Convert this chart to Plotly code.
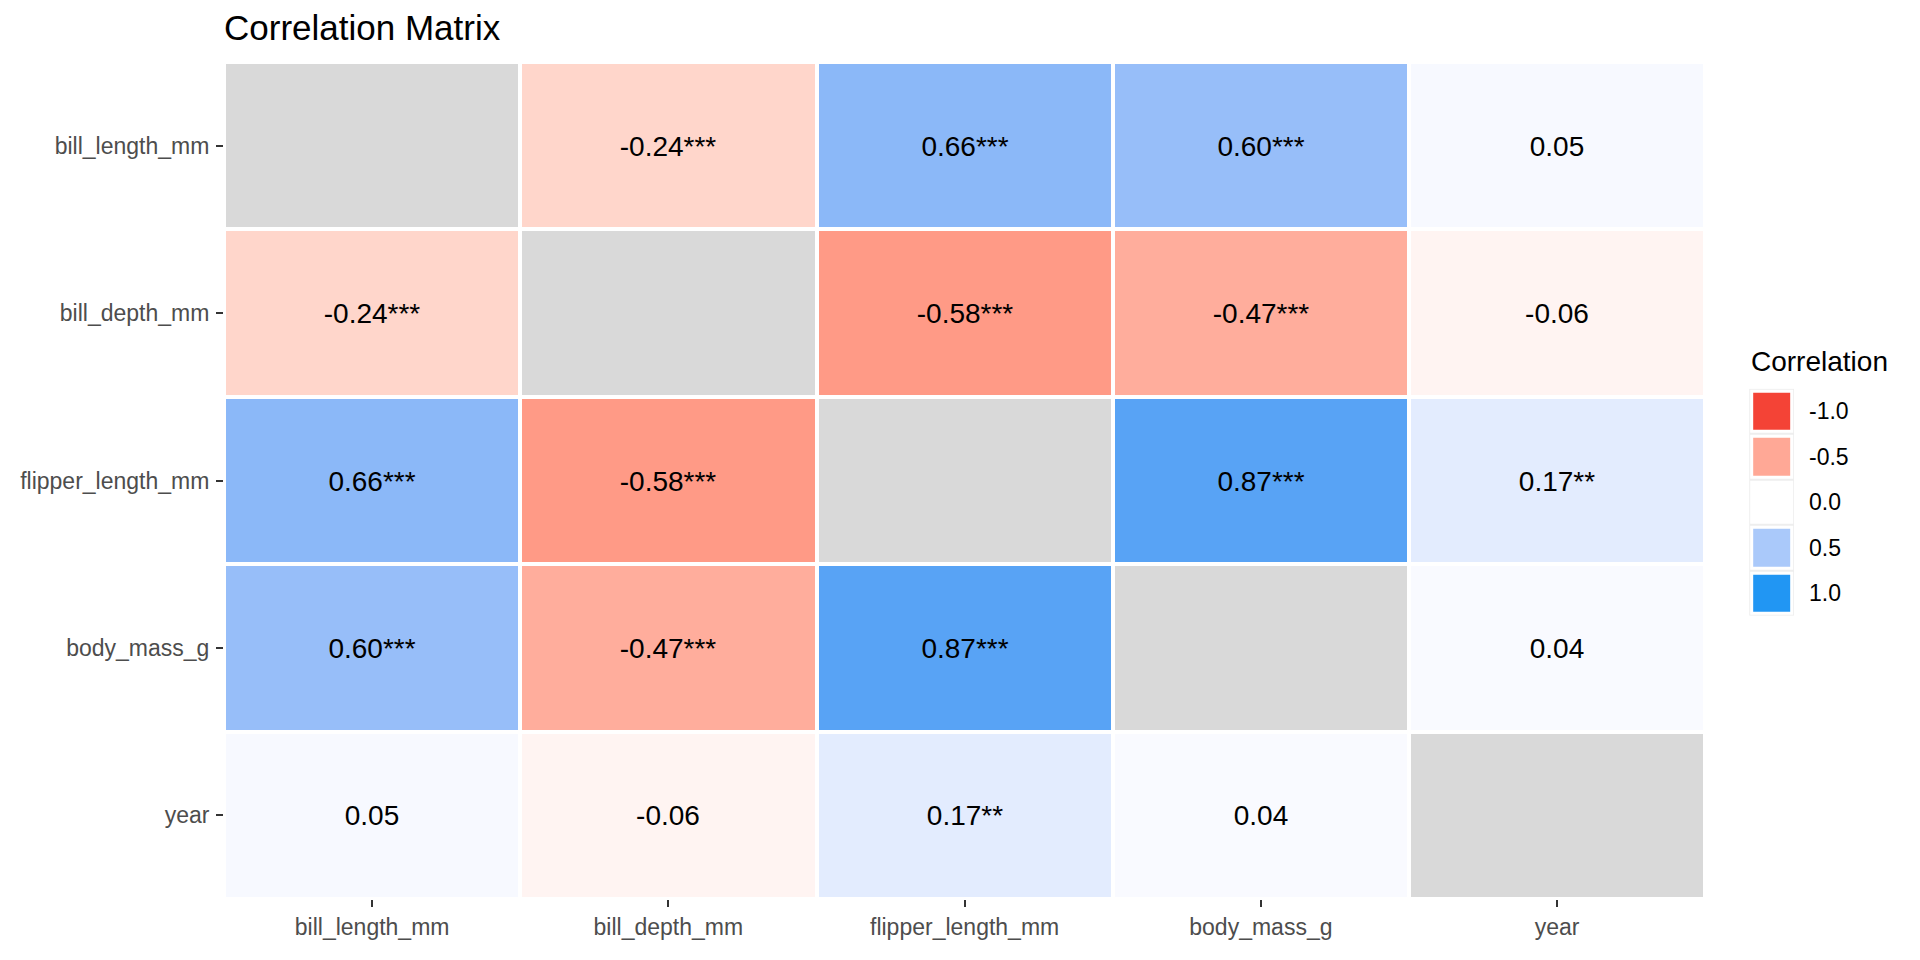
import numpy as np
import plotly.graph_objects as go

variables = ["bill_length_mm", "bill_depth_mm", "flipper_length_mm", "body_mass_g", "year"]

corr_values = [
    [None, -0.24, 0.66, 0.60, 0.05],
    [-0.24, None, -0.58, -0.47, -0.06],
    [0.66, -0.58, None, 0.87, 0.17],
    [0.60, -0.47, 0.87, None, 0.04],
    [0.05, -0.06, 0.17, 0.04, None],
]

stars = [
    ["", "***", "***", "***", ""],
    ["***", "", "***", "***", ""],
    ["***", "***", "", "***", "**"],
    ["***", "***", "***", "", ""],
    ["", "", "**", "", ""],
]

legend_values = [-1.0, -0.5, 0.0, 0.5, 1.0]
legend_labels = ["-1.0", "-0.5", "0.0", "0.5", "1.0"]

LOW = "#F44336"
MID = "#FFFFFF"
HIGH = "#2196F3"
NA_COLOR = "#D9D9D9"


# ---- Lab interpolation (like scales::div_gradient_pal) ----
M = np.array([[0.4124564, 0.3575761, 0.1804375],
              [0.2126729, 0.7151522, 0.0721750],
              [0.0193339, 0.1191920, 0.9503041]])
Minv = np.linalg.inv(M)
WN = np.array([0.95047, 1.0, 1.08883])


def hex2rgb(h):
    h = h.lstrip("#")
    return np.array([int(h[i:i + 2], 16) for i in (0, 2, 4)]) / 255.0


def rgb2lab(rgb):
    lin = np.where(rgb <= 0.04045, rgb / 12.92, ((rgb + 0.055) / 1.055) ** 2.4)
    xyz = M @ lin / WN
    d = 6 / 29
    f = np.where(xyz > d ** 3, np.cbrt(xyz), xyz / (3 * d * d) + 4 / 29)
    return np.array([116 * f[1] - 16, 500 * (f[0] - f[1]), 200 * (f[1] - f[2])])


def lab2hex(lab):
    L, a, b = lab
    fy = (L + 16) / 116
    fx = fy + a / 500
    fz = fy - b / 200
    d = 6 / 29
    f = np.array([fx, fy, fz])
    xyz = np.where(f > d, f ** 3, 3 * d * d * (f - 4 / 29)) * WN
    lin = Minv @ xyz
    lin = np.clip(lin, 0, 1)
    rgb = np.where(lin <= 0.0031308, 12.92 * lin, 1.055 * lin ** (1 / 2.4) - 0.055)
    rgb = np.clip(np.round(rgb * 255), 0, 255).astype(int)
    return "#%02X%02X%02X" % tuple(rgb)


lab_low, lab_mid, lab_high = rgb2lab(hex2rgb(LOW)), rgb2lab(hex2rgb(MID)), rgb2lab(hex2rgb(HIGH))
colorscale = []
for t in np.linspace(0, 1, 41):
    if t <= 0.5:
        s = t / 0.5
        lab = lab_low + (lab_mid - lab_low) * s
    else:
        s = (t - 0.5) / 0.5
        lab = lab_mid + (lab_high - lab_mid) * s
    colorscale.append([float(t), lab2hex(lab)])

# ---- derived arrays ----
labels = [[("" if v is None else f"{v:.2f}{stars[i][j]}") for j, v in enumerate(row)]
          for i, row in enumerate(corr_values)]
diag_mask = [[(1 if v is None else None) for v in row] for row in corr_values]

FONT = "Liberation Sans, Arial, Helvetica, sans-serif"

fig = go.Figure()

fig.add_trace(go.Heatmap(
    z=diag_mask, x=variables, y=variables,
    colorscale=[[0, NA_COLOR], [1, NA_COLOR]], showscale=False,
    xgap=4, ygap=4, hoverinfo="skip",
))

fig.add_trace(go.Heatmap(
    z=corr_values, x=variables, y=variables,
    colorscale=colorscale, zmin=-1, zmax=1, showscale=False,
    text=labels, texttemplate="%{text}",
    textfont=dict(size=28, color="black", family=FONT),
    xgap=4, ygap=4, hoverongaps=False,
))

# ---- legend built as small heatmaps ----
leg_idx = list(range(len(legend_values)))
leg_z = [[v] for v in legend_values]
fig.add_trace(go.Heatmap(
    z=[[0] for _ in legend_values], x=[0], y=leg_idx,
    colorscale=[[0, "#EEEEEE"], [1, "#EEEEEE"]], showscale=False,
    xaxis="x2", yaxis="y2", hoverinfo="skip",
))
fig.add_trace(go.Heatmap(
    z=[[0] for _ in legend_values], x=[0], y=leg_idx,
    colorscale=[[0, "#FFFFFF"], [1, "#FFFFFF"]], showscale=False,
    xgap=2, ygap=2, xaxis="x2", yaxis="y2", hoverinfo="skip",
))
fig.add_trace(go.Heatmap(
    z=leg_z, x=[0], y=leg_idx,
    colorscale=colorscale, zmin=-1, zmax=1, showscale=False,
    xgap=8, ygap=8, xaxis="x2", yaxis="y2", hoverinfo="skip",
))

# page body has an 8px default margin; work in screen coordinates
OFF = 8
W, H = 1920 - 2 * OFF, 960 - 2 * OFF
ML = 220 - OFF
MT = 62 - OFF
MB = H - (910 - OFF)
MR = W - (1800 - OFF)
PW = W - ML - MR
PH = H - MT - MB


def px_x(x):
    return (x - OFF - ML) / PW


def px_y(y):
    return (H - MB - (y - OFF)) / PH


fig.update_layout(
    width=W, height=H,
    margin=dict(l=ML, r=MR, t=MT, b=MB),
    paper_bgcolor="white", plot_bgcolor="white",
    font=dict(family=FONT, color="black"),
    title=dict(text="Correlation Matrix", x=0, xref="paper", xanchor="left",
               y=1 - (28 - OFF) / H, yref="container", yanchor="middle",
               font=dict(size=35, color="black", family=FONT)),
    xaxis=dict(domain=[0, px_x(1705)], type="category", categoryorder="array",
               categoryarray=variables, showgrid=False, zeroline=False, showline=False,
               ticks="outside", ticklen=7, tickwidth=2, tickcolor="#333333",
               tickfont=dict(size=23, color="#4D4D4D", family=FONT), ticklabelstandoff=0),
    yaxis=dict(domain=[0, 1], type="category", categoryorder="array",
               categoryarray=variables, autorange="reversed", showgrid=False,
               zeroline=False, showline=False,
               ticks="outside", ticklen=7, tickwidth=2, tickcolor="#333333",
               tickfont=dict(size=23, color="#4D4D4D", family=FONT), ticklabelstandoff=2),
    xaxis2=dict(domain=[px_x(1749), px_x(1794)], range=[-0.5, 0.5], anchor="y2",
                visible=False, fixedrange=True),
    yaxis2=dict(domain=[px_y(623), px_y(393)], range=[4.5, -0.5], anchor="x2",
                side="right", showgrid=False, zeroline=False, showline=False,
                tickvals=leg_idx, ticktext=legend_labels, ticks="",
                tickfont=dict(size=23, color="black", family=FONT),
                ticklabelstandoff=14, fixedrange=True),
    annotations=[dict(text="Correlation", x=px_x(1749), y=px_y(365),
                      xref="paper", yref="paper", xanchor="left", yanchor="middle",
                      showarrow=False, font=dict(size=28, color="black", family=FONT))],
)

fig.write_html("out.html")
